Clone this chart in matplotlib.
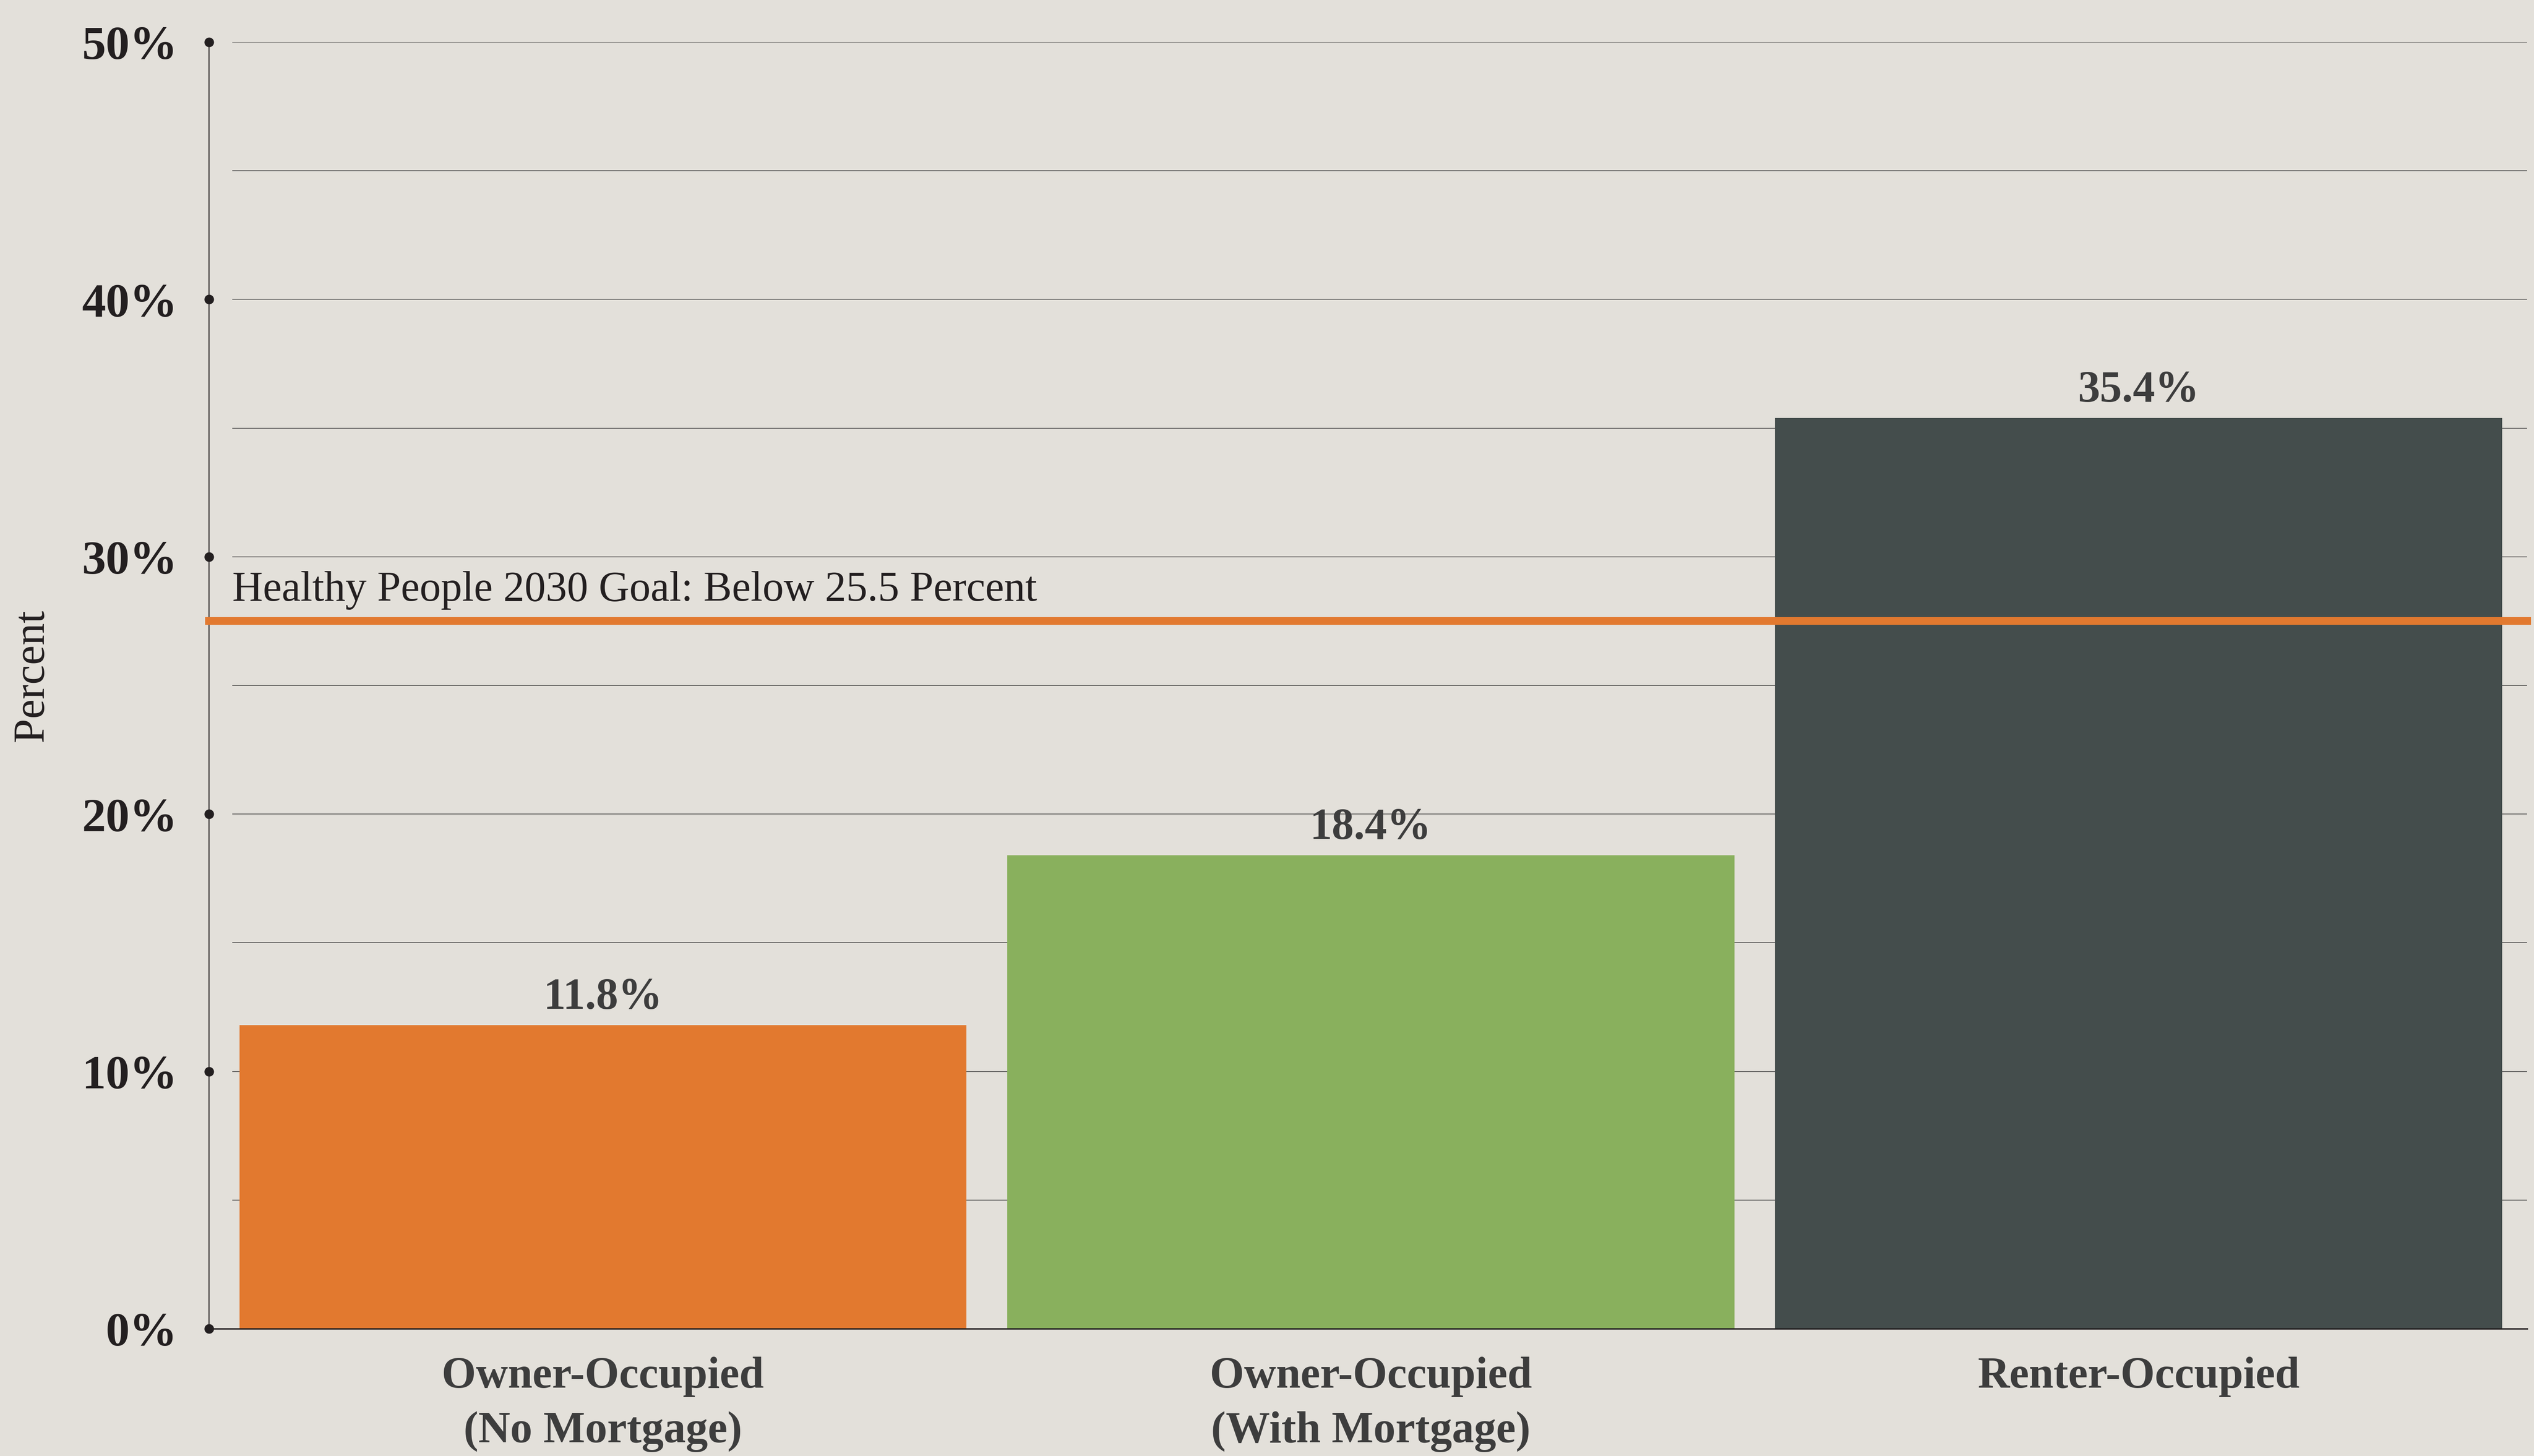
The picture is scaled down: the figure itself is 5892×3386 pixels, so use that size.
import matplotlib
matplotlib.use("Agg")
import matplotlib.pyplot as plt

# ---- data ----
categories = ["Owner-Occupied\n(No Mortgage)", "Owner-Occupied\n(With Mortgage)", "Renter-Occupied"]
values = [11.8, 18.4, 35.4]
bar_labels = ["11.8%", "18.4%", "35.4%"]
goal_value = 27.5
goal_text = "Healthy People 2030 Goal: Below 25.5 Percent"
y_ticks = [0, 10, 20, 30, 40, 50]
y_tick_labels = ["0%", "10%", "20%", "30%", "40%", "50%"]
grid_values = [0, 5, 10, 15, 20, 25, 30, 35, 40, 45, 50]

# ---- style ----
BG = "#e3e0da"
bar_colors = ["#e2792f", "#89b05d", "#444d4c"]
GOAL_COLOR = "#e2792f"
DARK = "#231f20"
LABEL = "#3d3d3d"
SERIF = ["Liberation Serif", "DejaVu Serif"]

W, H = 5892, 3387
DPI = 100
fig = plt.figure(figsize=(W / DPI, H / DPI), dpi=DPI, facecolor=BG)
ax = fig.add_axes([486 / W, 1 - 3091 / H, (5876 - 486) / W, (3091 - 99) / H])
ax.set_facecolor(BG)

x = list(range(len(categories)))
xmin, xmax = -0.513, 2.506
ax.set_xlim(xmin, xmax)
ax.set_ylim(0, 50)

# gridlines every 5%
ax.hlines(grid_values[1:], -0.483, xmax, colors="#3a3a3a", linewidth=1.1, zorder=1)

bars = ax.bar(x, values, width=0.947, color=bar_colors, zorder=2)

for xi, v, lab in zip(x, values, bar_labels):
    ax.annotate(lab, (xi, v), xytext=(0, 12), textcoords="offset points",
                ha="center", va="bottom", fontsize=74, fontweight="bold",
                color=LABEL, family=SERIF, zorder=4)

# goal line
ax.axhline(goal_value, color=GOAL_COLOR, linewidth=13, zorder=3, clip_on=False)
ax.annotate(goal_text, (-0.483, goal_value), xytext=(0, 20), textcoords="offset points",
            ha="left", va="bottom", fontsize=71, color=DARK, family=SERIF, zorder=4)

# spines
for s in ["top", "right"]:
    ax.spines[s].set_visible(False)
ax.spines["left"].set_color(DARK)
ax.spines["left"].set_linewidth(1.6)
ax.spines["bottom"].set_color(DARK)
ax.spines["bottom"].set_linewidth(2.4)
ax.spines["bottom"].set_zorder(5)

# y ticks as dots
ax.plot([xmin] * len(y_ticks), y_ticks, "o", color=DARK, markersize=15,
        clip_on=False, zorder=6)
ax.set_yticks(y_ticks)
ax.set_yticklabels(y_tick_labels, fontsize=80, fontweight="bold", color=DARK, family=SERIF)
ax.tick_params(axis="y", length=0, pad=53)

ax.set_xticks(x)
ax.set_xticklabels(categories, fontsize=74, fontweight="bold", color=LABEL, family=SERIF,
                   linespacing=1.45)
ax.tick_params(axis="x", length=0, pad=46)

fig.text(75 / W, 1 - 1571 / H, "Percent", rotation=90, ha="center", va="center",
         fontsize=74, color=DARK, family=SERIF)

fig.savefig("out.png", dpi=DPI, facecolor=BG)
